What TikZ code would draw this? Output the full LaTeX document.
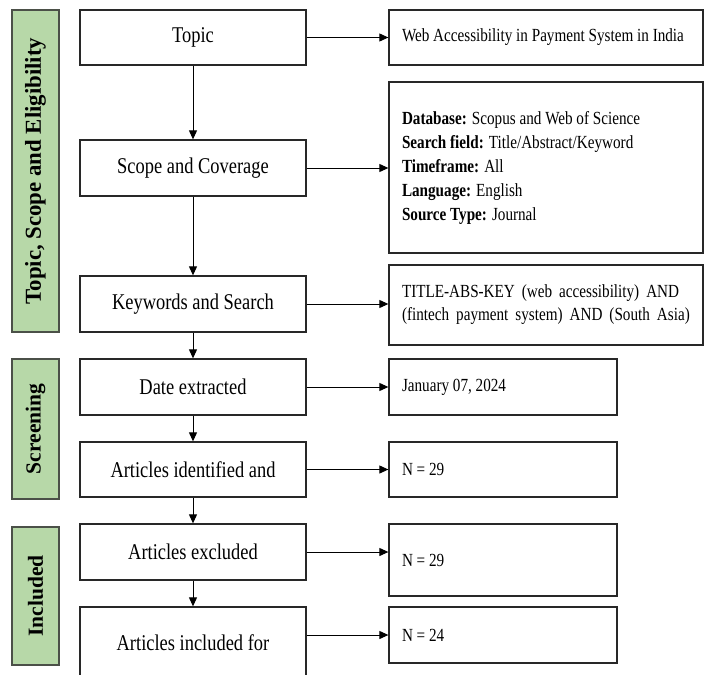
\documentclass[tikz,border=0pt]{standalone}
\usepackage{fontspec}
\setmainfont{Liberation Serif}
\newfontfamily\condfont[FakeStretch=0.82, WordSpace=0.8]{Liberation Serif}
\newfontfamily\rcondfont[FakeStretch=0.82]{Liberation Serif}
\usetikzlibrary{arrows.meta}
\definecolor{barfill}{RGB}{183,216,168}
\definecolor{barline}{RGB}{75,80,72}
\definecolor{boxline}{RGB}{40,40,40}
\newcommand\rfont{\rcondfont\fontsize{18.5}{24}\selectfont}
\newcommand\rfontb{\rcondfont\fontsize{18.5}{23}\selectfont\spaceskip=7pt plus 1pt minus 0.5pt\relax}
\begin{document}
\begin{tikzpicture}[x=1pt,y=-1pt,
  bar/.style={draw=barline, fill=barfill, line width=1.3pt, minimum height=47pt, inner sep=0pt, rotate=90, font=\fontsize{21.5}{24}\selectfont\bfseries},
  lbox/.style={draw=boxline, line width=1.3pt, minimum width=226pt, inner sep=0pt, font=\condfont\fontsize{22.5}{26}\selectfont},
  rbox/.style={draw=boxline, line width=1.3pt, inner xsep=13pt, inner ysep=0pt, align=flush left, font=\rfont},
  wide/.style={text width=288pt},
  narrow/.style={text width=202pt},
  arr/.style={-{Triangle[length=9pt,width=8pt]}, line width=1pt, draw=black}
]
\clip (0,0) rectangle (708,674);

% side bars
\node[bar, minimum width=322pt, font=\fontsize{22.8}{26}\selectfont\bfseries] (g1) at (35.5,171) {Topic, Scope and Eligibility};
\node[bar, minimum width=140pt] (g2) at (35.5,429) {Screening};
\node[bar, minimum width=138pt] (g3) at (35.5,596) {Included};

% left column
\node[lbox, minimum height=55pt] (topic) at (193,37.5) {Topic};
\node[lbox, minimum height=56pt] (scope) at (193,168) {Scope and Coverage};
\node[lbox, minimum height=56pt] (kw) at (193,304) {Keywords and Search};
\node[lbox, minimum height=56pt] (date) at (193,387) {Date extracted};
\node[lbox, minimum height=55pt] (ident) at (193,469.5) {Articles identified and};
\node[lbox, minimum height=56pt] (excl) at (193,552) {Articles excluded};
\node[lbox, minimum height=72pt] (incl) at (193,643) {Articles included for};

% right column
\node[rbox, wide, minimum height=55pt] (r1) at (546,37.5) {Web Accessibility in Payment System in India};
\node[rbox, wide, minimum height=171pt] (r2) at (546,167.5) {\textbf{Database:} Scopus and Web of Science\\
\textbf{Search field:} Title/Abstract/Keyword\\
\textbf{Timeframe:} All\\
\textbf{Language:} English\\
\textbf{Source Type:} Journal};
\node[rbox, wide, minimum height=80pt, font=\rfontb] (r3) at (546,305) {\mbox{TITLE-ABS-KEY (web accessibility) AND}\\\mbox{(fintech payment system) AND (South Asia)}};
\node[rbox, narrow, minimum height=56pt] (rdate) at (503,387) {January 07, 2024};
\node[rbox, narrow, minimum height=55pt] (rn1) at (503,469.5) {N = 29};
\node[rbox, narrow, minimum height=72pt] (rn2) at (503,560) {N = 29};
\node[rbox, narrow, minimum height=56pt] (rn3) at (503,635) {N = 24};

% vertical flow
\draw[arr] (topic) -- (scope);
\draw[arr] (scope) -- (kw);
\draw[arr] (kw) -- (date);
\draw[arr] (date) -- (ident);
\draw[arr] (ident) -- (excl);
\draw[arr] (excl) -- (incl);

% horizontal arrows
\draw[arr] (topic.east) -- (r1.west);
\draw[arr] (scope.east) -- (scope.east -| r2.west);
\draw[arr] (kw.east) -- (kw.east -| r3.west);
\draw[arr] (date.east) -- (rdate.west);
\draw[arr] (ident.east) -- (rn1.west);
\draw[arr] (excl.east) -- (excl.east -| rn2.west);
\draw[arr] (incl.east |- rn3.west) -- (rn3.west);
\end{tikzpicture}
\end{document}
